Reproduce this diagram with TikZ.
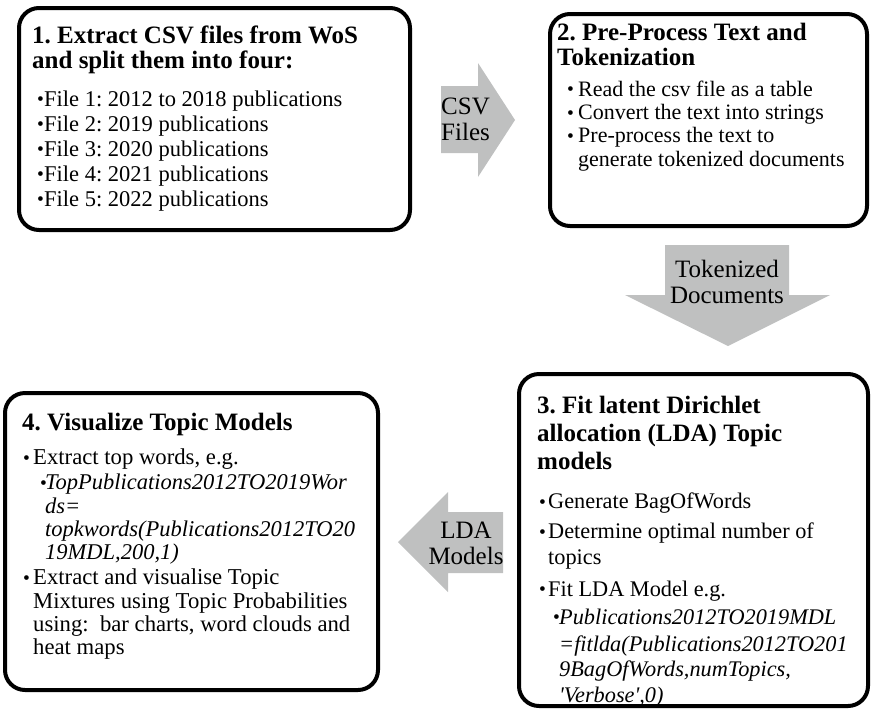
\documentclass[tikz,border=0pt]{standalone}
\usepackage{fontspec}
\setmainfont{Liberation Serif}
\usetikzlibrary{positioning}
\definecolor{arrowgrey}{RGB}{191,192,192}
\newcommand{\bul}[1][8pt]{\makebox[#1][l]{\raisebox{0.6pt}{\fontsize{19.5}{19.5}\selectfont\textbullet}}}
\frenchspacing

\begin{document}
\begin{tikzpicture}[x=1pt,y=-1pt,
    stage/.style={draw, line width=4pt, rounded corners=20pt, inner sep=0pt, outer sep=0pt, anchor=north west},
    heading/.style={anchor=north west, inner sep=0pt, align=left, font=\bfseries\fontsize{25}{25}\selectfont},
    body/.style={anchor=north west, inner sep=0pt, align=left, font=\fontsize{22.5}{25}\selectfont},
    flow/.style={fill=arrowgrey},
    flowlabel/.style={inner sep=0pt, font=\fontsize{25}{26}\selectfont}]
    \useasboundingbox (0,0) rectangle (872,710);
    % Boxes
    \node[stage, minimum width=391pt, minimum height=222pt] (extract) at (19,8) {};
    \node[stage, minimum width=317pt, minimum height=212pt] (preproc) at (550,14) {};
    \node[stage, minimum width=349pt, minimum height=332pt] (fitlda) at (519,374) {};
    \node[stage, minimum width=373pt, minimum height=297pt] (visual) at (5,393) {};
    % Box texts
    \node[heading] (extract title) at ([shift={(13,18)}]extract.north west)
        {1. Extract CSV files from WoS\\and split them into four:};
    \node[body] (extract list) at ([shift={(18,82.6)}]extract.north west)
        {\bul[7pt]File 1: 2012 to 2018 publications\\
         \bul[7pt]File 2: 2019 publications\\
         \bul[7pt]File 3: 2020 publications\\
         \bul[7pt]File 4: 2021 publications\\
         \bul[7pt]File 5: 2022 publications};
    \node[heading] (preproc title) at ([shift={(7,9)}]preproc.north west)
        {2. Pre-Process Text and\\Tokenization};
    \node[body, font=\fontsize{22}{23.3}\selectfont] (preproc list) at ([shift={(17,66.7)}]preproc.north west)
        {\bul[11pt]Read the csv file as a table\\
         \bul[11pt]Convert the text into strings\\
         \bul[11pt]Pre-process the text to\\
         \hspace*{11pt}generate tokenized documents};
    \node[heading] (fitlda title) at ([shift={(18,22)}]fitlda.north west)
        {3. Fit latent Dirichlet\\[3pt]allocation (LDA) Topic\\[3pt]models};
    \node[body, font=\fontsize{22.3}{25.5}\selectfont] (fitlda list) at ([shift={(20,119)}]fitlda.north west)
        {\bul[9pt]Generate BagOfWords\\[4.5pt]
         \bul[9pt]Determine optimal number of\\
         \hspace*{9pt}topics\\[6.5pt]
         \bul[9pt]Fit LDA Model e.g.\\[2.5pt]
         \hspace*{14pt}\bul[6pt]\textit{Publications2012TO2019MDL}\\[1.5pt]
         \hspace*{20pt}\textit{=fitlda(Publications2012TO201}\\
         \hspace*{20pt}\textit{9BagOfWords,numTopics,}\\
         \hspace*{20pt}\textit{\textquotesingle Verbose\textquotesingle,0)}};
    \node[heading] (visual title) at ([shift={(17,20)}]visual.north west)
        {4. Visualize Topic Models};
    \node[body, font=\fontsize{22.7}{23.3}\selectfont] (visual list) at ([shift={(18,56)}]visual.north west)
        {\bul[10pt]Extract top words, e.g.\\[1.7pt]
         \hspace*{17pt}\bul[5pt]{\fontsize{22.5}{23.3}\selectfont\itshape TopPublications2012TO2019Wor}\\
         \hspace*{22pt}{\fontsize{22.5}{23.3}\selectfont\itshape ds=}\\
         \hspace*{22pt}{\fontsize{22.5}{23.3}\selectfont\itshape topkwords(Publications2012TO20}\\
         \hspace*{22pt}{\fontsize{22.5}{23.3}\selectfont\itshape 19MDL,200,1)}\\[1.7pt]
         \bul[10pt]Extract and visualise Topic\\
         \hspace*{10pt}Mixtures using Topic Probabilities\\
         \hspace*{10pt}using:\ \ bar charts, word clouds and\\
         \hspace*{10pt}heat maps};
    % Block arrows
    \fill[flow] (441,86) -- (478,86) -- (478,63) -- (515,120) -- (478,177) -- (478,153) -- (441,153) -- cycle;
    \fill[flow] (665,245) -- (789,245) -- (789,295) -- (830,295) -- (728,346) -- (625,295) -- (665,295) -- cycle;
    \fill[flow] (503,512) -- (448,512) -- (448,492) -- (398,542) -- (448,592) -- (448,573) -- (503,573) -- cycle;
    \node[flowlabel, anchor=west, align=left] (csv) at (441,119) {CSV\\Files};
    \node[flowlabel, align=center] (tokens) at (727,282) {Tokenized\\Documents};
    \node[flowlabel, align=center] (models) at (466,543) {LDA\\Models};
\end{tikzpicture}
\end{document}
